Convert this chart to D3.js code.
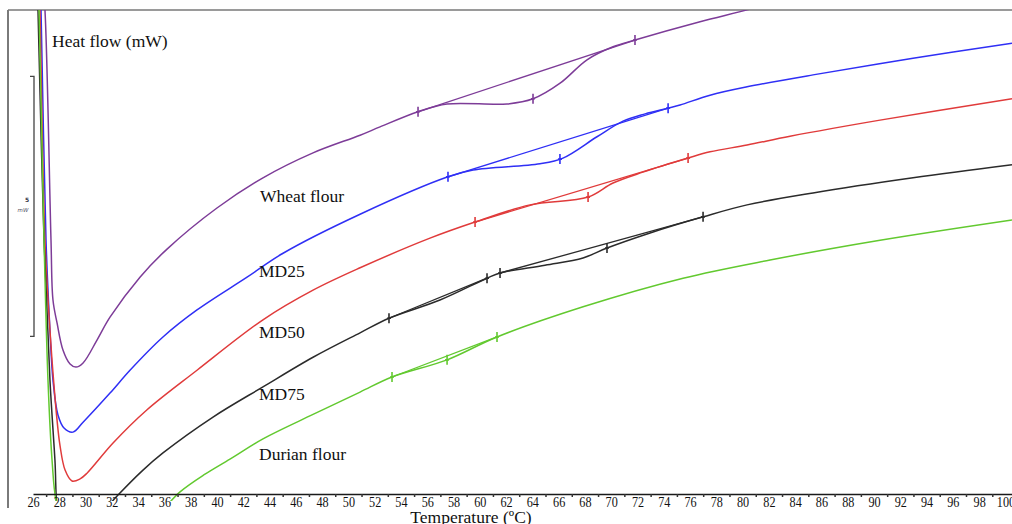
<!DOCTYPE html>
<html><head><meta charset="utf-8">
<script src="https://cdn.jsdelivr.net/npm/d3@7"></script>
<style>
body{margin:0;background:#fff;}
svg{display:block;font-family:"Liberation Serif","Times New Roman",serif;}
</style>
</head><body>
<svg id="c" width="1012" height="524"></svg>
<script>
// ---- tick labels (°C) ----
const evenTicks = d3.range(26, 101, 2);
const oddTicks = d3.range(27, 100, 2);

// ---- series: temperature (°C) and heat flow (mW, arbitrary offset) ----
const wheatT  = [26.68, 26.91, 27.37, 27.52, 27.83, 28.28, 28.82, 29.27, 29.81, 30.87, 31.86, 34.14, 36.20, 40.00, 43.50, 47.31, 50.89, 52.41, 55.30, 57.51, 62.07, 64.05, 66.11, 68.16, 70.14, 71.81, 76.76, 80.34, 82.09];
const wheatHF = [10.0, 9.31, 4.88, 3.73, 3.29, 2.77, 2.50, 2.44, 2.52, 2.96, 3.40, 4.17, 4.71, 5.50, 6.08, 6.56, 6.90, 7.06, 7.35, 7.50, 7.50, 7.60, 7.90, 8.35, 8.60, 8.73, 9.08, 9.31, 9.44];

const md25T  = [26.53, 26.61, 26.99, 27.29, 27.52, 27.90, 28.36, 29.04, 29.81, 31.86, 33.38, 35.89, 38.48, 42.29, 45.03, 50.89, 57.58, 59.49, 64.58, 66.33, 68.92, 70.90, 72.58, 74.33, 75.24, 77.52, 80.34, 85.36, 92.97, 100.5];
const md25HF = [10.0, 9.31, 4.88, 3.15, 2.19, 1.52, 1.27, 1.19, 1.38, 1.94, 2.38, 3.02, 3.54, 4.17, 4.63, 5.38, 6.10, 6.23, 6.35, 6.46, 6.87, 7.17, 7.31, 7.42, 7.48, 7.67, 7.83, 8.06, 8.38, 8.67];

const md50T  = [26.46, 26.53, 26.91, 27.29, 27.52, 27.83, 28.05, 28.44, 28.97, 29.58, 30.11, 32.09, 34.68, 38.48, 43.50, 47.31, 50.89, 56.21, 59.64, 63.82, 68.24, 70.14, 72.42, 75.85, 77.52, 80.34, 83.61, 90.46, 100.5];
const md50HF = [10.0, 9.31, 4.88, 3.15, 2.33, 1.42, 0.94, 0.46, 0.25, 0.29, 0.40, 0.98, 1.62, 2.38, 3.35, 3.92, 4.35, 4.92, 5.23, 5.56, 5.71, 5.98, 6.19, 6.46, 6.58, 6.71, 6.88, 7.19, 7.60];

const md75T  = [26.30, 26.38, 26.84, 27.29, 27.67, 27.90, 28.44, 29.58, 31.10, 32.47, 34.37, 35.89, 39.70, 43.50, 47.31, 50.89, 53.09, 56.97, 60.55, 61.54, 64.96, 67.86, 69.68, 72.96, 76.99, 80.34, 85.36, 92.97, 100.5];
const md75HF = [10.0, 9.31, 4.88, 2.19, 0.65, -0.40, -0.79, -0.79, -0.40, -0.02, 0.46, 0.79, 1.48, 2.06, 2.63, 3.10, 3.38, 3.73, 4.15, 4.25, 4.40, 4.54, 4.73, 5.02, 5.33, 5.56, 5.79, 6.08, 6.33];

const durianT  = [26.38, 26.46, 26.84, 27.14, 27.45, 27.75, 28.44, 30.34, 33.38, 35.67, 37.19, 39.09, 40.99, 43.50, 47.31, 50.89, 53.32, 57.51, 61.31, 67.86, 75.47, 82.09, 90.46, 100.5];
const durianHF = [10.0, 9.31, 4.88, 2.19, 0.65, -0.12, -0.69, -0.98, -0.79, -0.35, 0.04, 0.38, 0.67, 1.06, 1.53, 1.96, 2.25, 2.58, 3.02, 3.60, 4.15, 4.50, 4.88, 5.27];

// ---- integration baselines (straight lines) [start, end] ----
const wheatBaseT = [55.30, 71.81], wheatBaseHF = [7.35, 8.73];
const md25BaseT = [57.58, 74.33],  md25BaseHF = [6.10, 7.42];
const md50BaseT = [59.64, 75.85],  md50BaseHF = [5.23, 6.46];
const md75BaseT = [53.09, 60.55, 61.54, 76.99], md75BaseHF = [3.38, 4.15, 4.25, 5.33];
const durianBaseT = [53.32, 61.31], durianBaseHF = [2.25, 3.02];

// ---- onset / peak / end markers ----
const wheatMarkT = [55.30, 64.05, 71.81], wheatMarkHF = [7.35, 7.60, 8.73];
const md25MarkT = [57.58, 66.10, 74.33],  md25MarkHF = [6.10, 6.44, 7.42];
const md50MarkT = [59.64, 68.24, 75.85],  md50MarkHF = [5.23, 5.71, 6.46];
const md75MarkT = [53.09, 60.55, 61.54, 69.68, 76.99], md75MarkHF = [3.38, 4.15, 4.25, 4.73, 5.33];
const durianMarkT = [53.32, 57.51, 61.31], durianMarkHF = [2.25, 2.58, 3.02];

const seriesNames = ["Wheat flour", "MD25", "MD50", "MD75", "Durian flour"];
const seriesColors = ["#7d3c98", "#2f2ff5", "#e03b3b", "#2b2b2b", "#62c92f"];
const scaleBarMW = 5, scaleBarBase = 3.03;

// ---- build ----
const zip = (a, b) => a.map((v, i) => [v, b[i]]);
const series = [
  {curve: zip(wheatT, wheatHF), base: zip(wheatBaseT, wheatBaseHF), marks: zip(wheatMarkT, wheatMarkHF)},
  {curve: zip(md25T, md25HF), base: zip(md25BaseT, md25BaseHF), marks: zip(md25MarkT, md25MarkHF)},
  {curve: zip(md50T, md50HF), base: zip(md50BaseT, md50BaseHF), marks: zip(md50MarkT, md50MarkHF)},
  {curve: zip(md75T, md75HF), base: zip(md75BaseT, md75BaseHF), marks: zip(md75MarkT, md75MarkHF)},
  {curve: zip(durianT, durianHF), base: zip(durianBaseT, durianBaseHF), marks: zip(durianMarkT, durianMarkHF)}
];
series.forEach((s, i) => { s.name = seriesNames[i]; s.color = seriesColors[i]; });

const svg = d3.select("#c");
const x = d3.scaleLinear().domain([26, 100.5]).range([33, 1012]);
const y = d3.scaleLinear().domain([0, 9.3]).range([494, 10.4]);

// frame
svg.append("line").attr("x1", 8).attr("x2", 1012).attr("y1", 10).attr("y2", 10)
  .attr("stroke", "#9a9a9a").attr("stroke-width", 2);
svg.append("line").attr("x1", 8).attr("x2", 8).attr("y1", 10).attr("y2", 508)
  .attr("stroke", "#7a7a7a").attr("stroke-width", 2);

// scale bar (5 mW)
const sb = svg.append("g").attr("stroke", "#444").attr("stroke-width", 1.3).attr("fill", "none");
const sbTop = y(scaleBarBase + scaleBarMW), sbBot = y(scaleBarBase);
sb.append("path").attr("d", `M30,${sbTop}H34V${sbBot}H30`);
svg.append("text").attr("x", 27).attr("y", y(scaleBarBase + scaleBarMW / 2) - 4)
  .attr("font-family", "DejaVu Sans").attr("font-size", 6).attr("font-weight", "bold")
  .attr("fill", "#334").attr("text-anchor", "middle").text("5");
svg.append("text").attr("x", 23).attr("y", y(scaleBarBase + scaleBarMW / 2) + 6)
  .attr("font-family", "DejaVu Sans").attr("font-size", 5.5).attr("font-style", "italic")
  .attr("fill", "#556").attr("text-anchor", "middle").text("mW");

// clip
svg.append("clipPath").attr("id", "clip").append("rect")
  .attr("x", 8).attr("y", 10).attr("width", 1004).attr("height", 491);

const plot = svg.append("g").attr("clip-path", "url(#clip)");
const line = d3.line().x(d => x(d[0])).y(d => y(d[1])).curve(d3.curveCatmullRom.alpha(0.5));
const straight = d3.line().x(d => x(d[0])).y(d => y(d[1]));

series.forEach(s => {
  const g = plot.append("g").attr("stroke", s.color).attr("fill", "none").attr("stroke-width", 1.5);
  g.append("path").attr("d", line(s.curve));
  for (let i = 0; i + 1 < s.base.length; i += 2) {
    g.append("path").attr("d", straight([s.base[i], s.base[i + 1]])).attr("stroke-width", 1.3);
  }
  g.selectAll(".mk").data(s.marks).join("path").attr("class", "mk")
    .attr("stroke-width", 1.6)
    .attr("d", d => `M${x(d[0])},${y(d[1]) - 5}V${y(d[1]) + 5}M${x(d[0]) - 2},${y(d[1])}H${x(d[0]) + 2}`);
});

// x axis
const ax = svg.append("g").attr("transform", "translate(0,494)")
  .call(d3.axisBottom(x).tickValues(evenTicks).tickSize(0).tickSizeOuter(0).tickPadding(3).tickFormat(d3.format("d")));
ax.select(".domain").attr("stroke", "#1a1a1a").attr("stroke-width", 1.6);
ax.selectAll("text").attr("font-family", "Liberation Serif").attr("font-size", 14.5)
  .attr("fill", "#111").attr("transform", "scale(0.84,1)");

const ax2 = svg.append("g").attr("transform", "translate(0,494)")
  .call(d3.axisBottom(x).tickValues(oddTicks).tickSize(3).tickFormat(""));
ax2.select(".domain").remove();
ax2.selectAll("line").attr("stroke", "#333").attr("stroke-width", 1.5);

// texts
const lab = (t, xx, yy, anchor) => svg.append("text").attr("x", xx).attr("y", yy)
  .attr("font-size", 17.5).attr("fill", "#111").attr("text-anchor", anchor || "start").text(t);
lab("Heat flow (mW)", 52, 47);
lab("Temperature (ºC)", 471, 523, "middle");
const labelPos = [[260, 202], [259, 277], [259, 338], [259, 400], [259, 460]];
series.forEach((s, i) => lab(s.name, labelPos[i][0], labelPos[i][1]));
</script>
</body></html>
